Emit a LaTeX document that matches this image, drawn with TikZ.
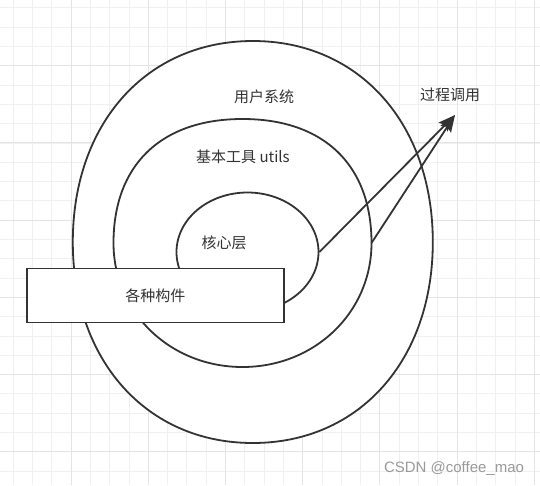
\documentclass[tikz,border=0pt]{standalone}
\usepackage{fontspec}
\setmainfont{Noto Sans CJK SC}
\newfontfamily\markfont{Liberation Sans}
\usetikzlibrary{shapes.geometric,arrows.meta}
\definecolor{linegray}{HTML}{333333}
\definecolor{gridminor}{HTML}{F0F0F0}
\definecolor{gridmajor}{HTML}{E4E4E4}
\definecolor{markgray}{HTML}{9A9A9A}

\begin{document}
\begin{tikzpicture}[x=1pt,y=-1pt,
  ring/.style={draw=linegray,fill=white,line width=1.8pt},
  lbl/.style={text=linegray,font=\fontsize{15}{18}\selectfont,inner sep=0pt},
  call/.style={draw=linegray,line width=1.8pt,-{Stealth[length=17pt,width=12.5pt,inset=3pt]}}]
\useasboundingbox (0,0) rectangle (540,485);
\fill[white] (0,0) rectangle (540,485);

% grid
\foreach \k in {0,...,27}
  \draw[gridminor,line width=0.8pt] (13.1+19.3*\k,0) -- (13.1+19.3*\k,485);
\foreach \k in {0,...,24}
  \draw[gridminor,line width=0.8pt] (0,7.8+19.3*\k) -- (540,7.8+19.3*\k);
\foreach \k in {3,7,...,27}
  \draw[gridmajor,line width=1pt] (13.1+19.3*\k,0) -- (13.1+19.3*\k,485);
\foreach \k in {3,7,...,23}
  \draw[gridmajor,line width=1pt] (0,7.8+19.3*\k) -- (540,7.8+19.3*\k);

\coordinate (sysE) at (432.8,242);
\coordinate (sysN) at (252.8,41);
\coordinate (sysW) at (72.8,242);
\coordinate (sysS) at (252.8,443);
\draw[ring] (sysE) .. controls +(0,-118.6) and +(106.2,0) .. (sysN)
  .. controls +(-106.2,0) and +(0,-118.6) .. (sysW)
  .. controls +(0,118.6) and +(-106.2,0) .. (sysS)
  .. controls +(106.2,0) and +(0,118.6) .. (sysE) -- cycle;

\coordinate (utilsE) at (371.5,243);
\coordinate (utilsN) at (242.5,119);
\coordinate (utilsW) at (113.5,243);
\coordinate (utilsS) at (242.5,367);
\draw[ring] (utilsE) .. controls +(0,-78.1) and +(81.3,0) .. (utilsN)
  .. controls +(-81.3,0) and +(0,-78.1) .. (utilsW)
  .. controls +(0,69.4) and +(-72.2,0) .. (utilsS)
  .. controls +(72.2,0) and +(0,69.4) .. (utilsE) -- cycle;

\node[ring,ellipse,inner sep=0pt,minimum width=142pt,minimum height=119pt] (core) at (247.5,252) {};

\node[lbl] (sysl) at (264,97) {用户系统};
\node[lbl] (utilsl) at (243,157) {基本工具 utils};
\node[lbl] (corel) at (224,243) {核心层};
\node[lbl] (calll) at (450,95) {过程调用};

\coordinate (tip) at (455,115);
\draw[call] (core.east) -- (tip);
\draw[call] (utilsE) -- (tip);

\node[lbl,draw=linegray,fill=white,line width=1.8pt,minimum width=257pt,minimum height=54pt] (parts) at (155.3,295.5) {各种构件};

\node[text=markgray,font=\markfont\fontsize{15}{17}\selectfont,inner sep=0pt] (mark) at (454,469) {CSDN @coffee\_mao};
\end{tikzpicture}
\end{document}
